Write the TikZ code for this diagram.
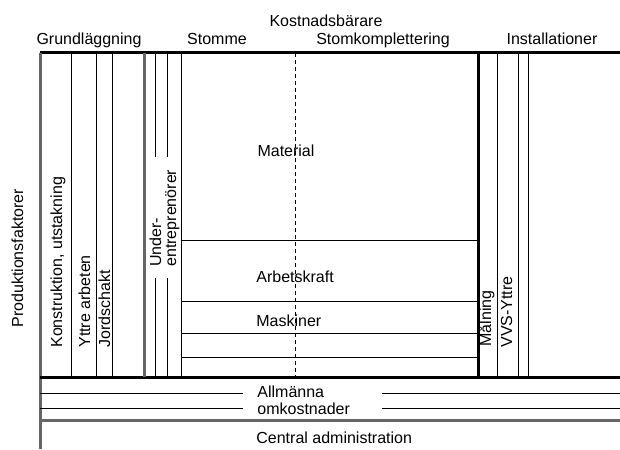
\documentclass[tikz,border=0pt]{standalone}
\usepackage{fontspec}
\setmainfont{Liberation Sans}
\begin{document}
\begin{tikzpicture}[x=0.5pt,y=-0.5pt,
	frame/.style={line width=1.5pt},
	frgrey/.style={line width=1.5pt,draw=black!60},
	rule/.style={line width=0.5pt},
	lbl/.style={font=\fontsize{8}{9.6}\selectfont,inner sep=0pt},
	vlbl/.style={lbl,rotate=90,anchor=base west}]
	\useasboundingbox (0,0) rectangle (620,449);

	% frame
	\draw[frame] (40,53)--(620,53); % top
	\draw[frgrey] (40,53)--(40,449); % left
	\draw[frame] (40,377)--(620,377); % bottom of the cost carriers
	\draw[frgrey] (40,420)--(620,420); % above central administration

	% Grundläggning
	\draw[rule] (71,53)--(71,377);
	\draw[rule] (96,53)--(96,377);
	\draw[rule] (112,53)--(112,377);
	\draw[frgrey] (144,53)--(144,377);

	% Stomme
	\draw[rule] (155,53)--(155,157); \draw[rule] (155,278)--(155,377);
	\draw[rule] (167,53)--(167,157); \draw[rule] (167,278)--(167,377);
	\draw[rule] (181,53)--(181,377);
	\draw[rule] (181,240)--(478,240); % material / arbetskraft
	\draw[rule] (181,301)--(478,301); % arbetskraft / maskiner
	\draw[rule] (181,333)--(478,333);
	\draw[rule] (181,357)--(478,357);
	\draw[rule,dash pattern=on 2pt off 1.5pt] (295,53)--(295,377); % stomme / stomkomplettering

	% Installationer
	\draw[frame] (478,53)--(478,377);
	\draw[rule] (497,53)--(497,377);
	\draw[rule] (518,53)--(518,377);
	\draw[rule] (528,53)--(528,377);

	% allmänna omkostnader
	\draw[rule] (40,393)--(243,393); \draw[rule] (382,393)--(620,393);
	\draw[rule] (40,408)--(243,408); \draw[rule] (382,408)--(620,408);

	% labels
	\node[lbl,anchor=base] (kb) at (326,27) {Kostnadsbärare};
	\node[lbl,anchor=base] (grund) at (89,45) {Grundläggning};
	\node[lbl,anchor=base] (stomme) at (217,45) {Stomme};
	\node[lbl,anchor=base] (stomkompl) at (383,45) {Stomkomplettering};
	\node[lbl,anchor=base] (inst) at (552,45) {Installationer};

	\node[lbl,anchor=base] (mat) at (286,156) {Material};
	\node[lbl,anchor=base west] (arb) at (256,282) {Arbetskraft};
	\node[lbl,anchor=base west] (mask) at (256,326) {Maskiner};
	\node[lbl,anchor=base west] (allm) at (257,397) {Allmänna};
	\node[lbl,anchor=base west] (omk) at (257,414) {omkostnader};
	\node[lbl,anchor=base west] (central) at (256,443) {Central administration};

	\node[vlbl] (prod) at (23,328) {Produktionsfaktorer};
	\node[vlbl] (konstr) at (62,348) {Konstruktion, utstakning};
	\node[vlbl] (yttre) at (90,348) {Yttre arbeten};
	\node[vlbl] (jord) at (110,348) {Jordschakt};
	\node[vlbl] (under) at (161,267) {Under-};
	\node[vlbl] (entrepr) at (176,267) {entreprenörer};
	\node[vlbl] (maln) at (491,347) {Målning};
	\node[vlbl] (vvs) at (512,348) {VVS-Yttre};
\end{tikzpicture}
\end{document}
